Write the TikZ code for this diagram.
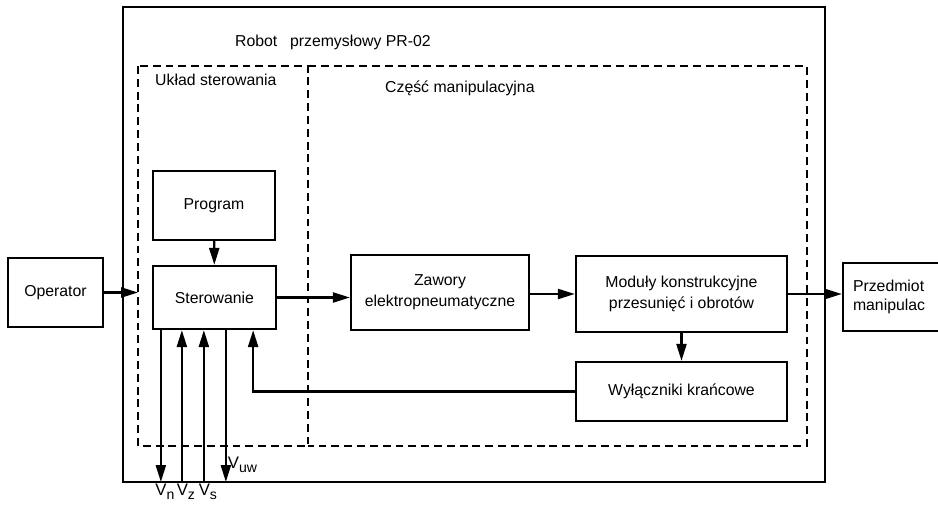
\documentclass[tikz,border=0pt]{standalone}
\usepackage{fontspec}
\setmainfont{Liberation Sans}
\usetikzlibrary{arrows.meta,calc}

\newcommand{\indeks}[1]{\raisebox{-0.45ex}{\fontsize{8}{9}\selectfont #1}}

\begin{document}
\begin{tikzpicture}[x=0.02cm,y=-0.02cm,
  blok/.style={draw,line width=1.3pt,align=center,font=\fontsize{9}{12}\selectfont},
  napis/.style={anchor=west,font=\fontsize{9}{11}\selectfont},
  strz/.style={line width=1.3pt,-{Triangle[length=3.4mm,width=2mm]}},
  etyk/.style={inner sep=1pt,font=\fontsize{9.5}{11}\selectfont},
  przer/.style={line width=1.2pt,dash pattern=on 4.5pt off 2.8pt}]
  \useasboundingbox (0,0) rectangle (938,507);
  \coordinate (robNW) at (123,7);
  \coordinate (robSE) at (825,482);
  \coordinate (uklNW) at (138,66);
  \coordinate (uklSE) at (308,446);
  \coordinate (manSE) at (807,446);
  \draw[line width=1.6pt] (robNW) rectangle (robSE);
  \draw[przer] (uklNW) rectangle (uklSE);
  \draw[przer] (uklSE |- uklNW) -- (manSE |- uklNW) -- (manSE) -- (uklSE);
  \node[napis] (robot) at (229,42) {Robot\hspace{0.8em}przemysłowy PR-02};
  \node[napis] (ukl) at (149,80) {Układ sterowania};
  \node[napis] (man) at (379,88) {Część manipulacyjna};

  \node[blok,minimum width=1.9cm,minimum height=1.38cm] (oper) at (55.5,292.5) {Operator};
  \node[blok,minimum width=2.44cm,minimum height=1.38cm] (prog) at (214,205.5) {Program};
  \node[blok,minimum width=2.46cm,minimum height=1.26cm] (ster) at (214.5,297.5) {Sterowanie};
  \node[blok,minimum width=3.56cm,minimum height=1.5cm] (zaw) at (440,292.5) {Zawory\\elektropneumatyczne};
  \node[blok,minimum width=4.22cm,minimum height=1.52cm] (mod) at (681.5,294) {Moduły konstrukcyjne\\przesunięć i obrotów};
  \node[blok,minimum width=4.22cm,minimum height=1.18cm] (wyl) at (681.5,391.5) {Wyłączniki krańcowe};
  \node[blok,minimum width=2.1cm,minimum height=1.36cm,text width=1.7cm,align=left,
    font=\fontsize{9}{10.5}\selectfont] (przed) at (895.5,297) {Przedmiot\\manipulac};

  \draw[strz] (oper) -- (oper -| uklNW);
  \draw[strz] (prog) -- (ster);
  \draw[strz] (ster) -- (ster -| zaw.west);
  \draw[strz] (zaw.east |- mod) -- (mod);
  \draw[strz] (mod) -- (mod -| przed.west);
  \draw[strz] (mod) -- (wyl);
  \draw[strz] (wyl) -| ([xshift=-0.48cm]ster.south east);

  \coordinate (vn) at ([xshift=0.18cm]ster.south west);
  \coordinate (vz) at ([xshift=0.6cm]ster.south west);
  \coordinate (vs) at ([xshift=1.04cm]ster.south west);
  \coordinate (vuw) at ([xshift=1.48cm]ster.south west);
  \draw[strz] (vn) -- (vn |- robSE);
  \draw[strz] (vz |- robSE) -- (vz);
  \draw[strz] (vs |- robSE) -- (vs);
  \draw[strz] (vuw) -- (vuw |- robSE);
  \node[etyk,anchor=north,xshift=0.08cm] (lvn) at (vn |- robSE) {V\indeks{n}};
  \node[etyk,anchor=north,xshift=0.08cm] (lvz) at (vz |- robSE) {V\indeks{z}};
  \node[etyk,anchor=north,xshift=0.08cm] (lvs) at (vs |- robSE) {V\indeks{s}};
  \node[etyk,anchor=south west,yshift=0.14cm] (lvuw) at (vuw |- robSE) {V\indeks{uw}};
\end{tikzpicture}
\end{document}
